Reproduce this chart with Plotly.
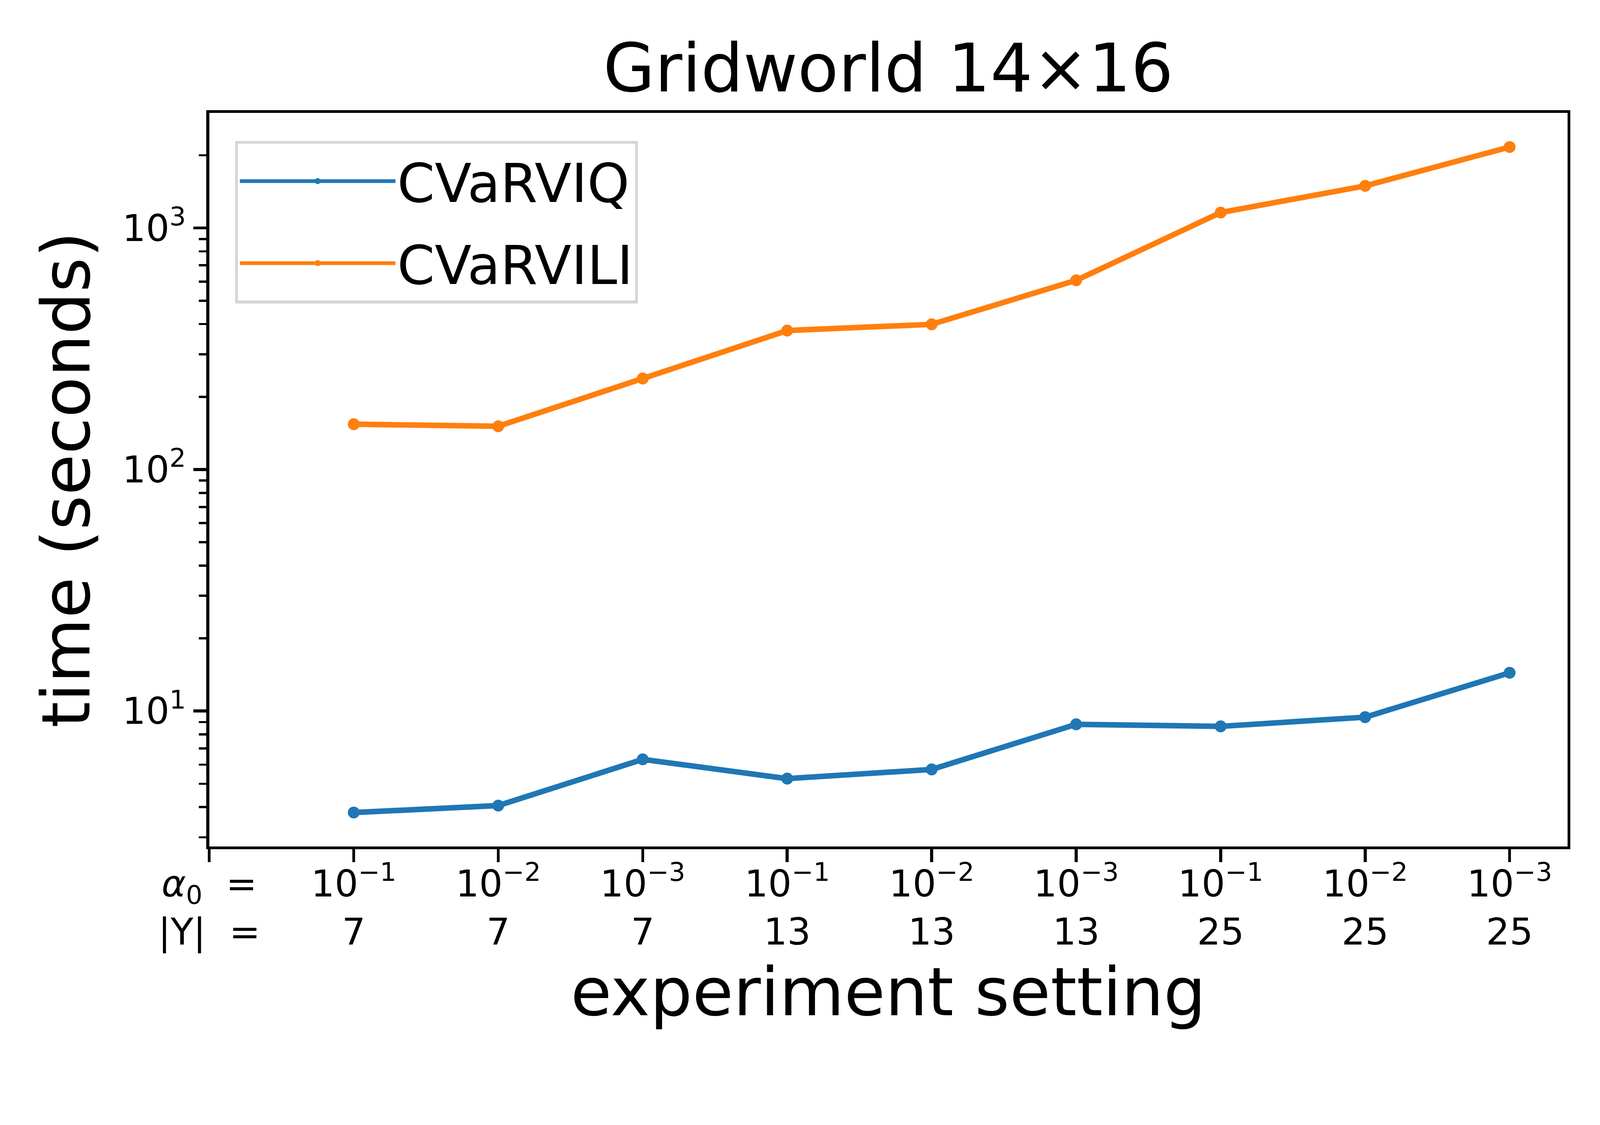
import plotly.graph_objects as go

# experiment settings (alpha_0 exponent, |Y|)
alpha_exps = [-1, -2, -3, -1, -2, -3, -1, -2, -3]
y_sizes = [7, 7, 7, 13, 13, 13, 25, 25, 25]

# run times in seconds
cvarviq = [3.80, 4.06, 6.31, 5.25, 5.73, 8.81, 8.64, 9.43, 14.4]
cvarvili = [154, 151, 238, 376, 399, 607, 1158, 1493, 2163]

FONT = "DejaVu Sans"
BLUE = "#1f77b4"
ORANGE = "#ff7f0e"
W, H = 4320, 2880

xs = list(range(len(alpha_exps)))

fig = go.Figure()
for name, vals, col in [("CVaRVIQ", cvarviq, BLUE), ("CVaRVILI", cvarvili, ORANGE)]:
    fig.add_trace(
        go.Scatter(
            x=xs,
            y=vals,
            mode="lines+markers",
            name=name,
            legendgroup=name,
            line=dict(color=col, width=15),
            marker=dict(color=col, size=32),
        )
    )

# tick labels: first tick is the row header
tickvals = [-1] + xs
ticktext = ["<i>α</i><sub>0</sub>  =<br>|Y|  ="] + [
    f"10<sup>−{-a}</sup><br>{n}" for a, n in zip(alpha_exps, y_sizes)
]

minor_y = [m * 10**e for e in range(0, 4) for m in range(2, 10)]

axis_common = dict(
    showline=True,
    linecolor="black",
    linewidth=8,
    mirror=True,
    ticks="outside",
    ticklen=35,
    tickwidth=8,
    tickcolor="black",
    showgrid=False,
    zeroline=False,
    tickfont=dict(family=FONT, size=100, color="black"),
)

fig.update_layout(
    width=W,
    height=H,
    margin=dict(l=565, r=88, t=305, b=595),
    paper_bgcolor="white",
    plot_bgcolor="white",
    font=dict(family=FONT, color="black"),
    title=dict(
        text="Gridworld 14×16",
        x=(565 + 4232) / 2 / W,
        xanchor="center",
        y=1 - 184 / H,
        yanchor="middle",
        font=dict(family=FONT, size=180, color="black"),
    ),
    xaxis=dict(
        axis_common,
        range=[-1, 8.4],
        tickmode="array",
        tickvals=tickvals,
        ticktext=ticktext,
        ticklabelstandoff=-28,
        title=dict(
            text="experiment setting",
            font=dict(family=FONT, size=180, color="black"),
            standoff=35,
        ),
    ),
    yaxis=dict(
        axis_common,
        type="log",
        range=[0.44, 3.476],
        tickmode="array",
        tickvals=[10, 100, 1000],
        ticktext=["10<sup>1</sup>", "10<sup>2</sup>", "10<sup>3</sup>"],
        minor=dict(
            tickmode="array",
            tickvals=minor_y,
            ticks="outside",
            ticklen=20,
            tickwidth=6,
            tickcolor="black",
            showgrid=False,
        ),
        title=dict(
            text="time (seconds)",
            font=dict(family=FONT, size=180, color="black"),
            standoff=30,
        ),
    ),
    legend=dict(
        x=0.019,
        y=0.962,
        xanchor="left",
        yanchor="top",
        bgcolor="white",
        bordercolor="#d6d6d6",
        borderwidth=8,
        font=dict(family=FONT, size=145, color="black"),
        tracegroupgap=30,
        itemwidth=420,
    ),
    showlegend=True,
)

# scale the fixed-size figure to whatever the viewport really is
fit_js = """
var gd = document.getElementById('{plot_id}');
document.body.style.margin = '0';
document.body.style.overflow = 'hidden';
var s = Math.min(window.innerWidth / %d, window.innerHeight / %d);
gd.style.transformOrigin = '0 0';
gd.style.transform = 'scale(' + s + ')';
""" % (W, H)

fig.write_html("out.html", post_script=fit_js, config={"displayModeBar": False})
